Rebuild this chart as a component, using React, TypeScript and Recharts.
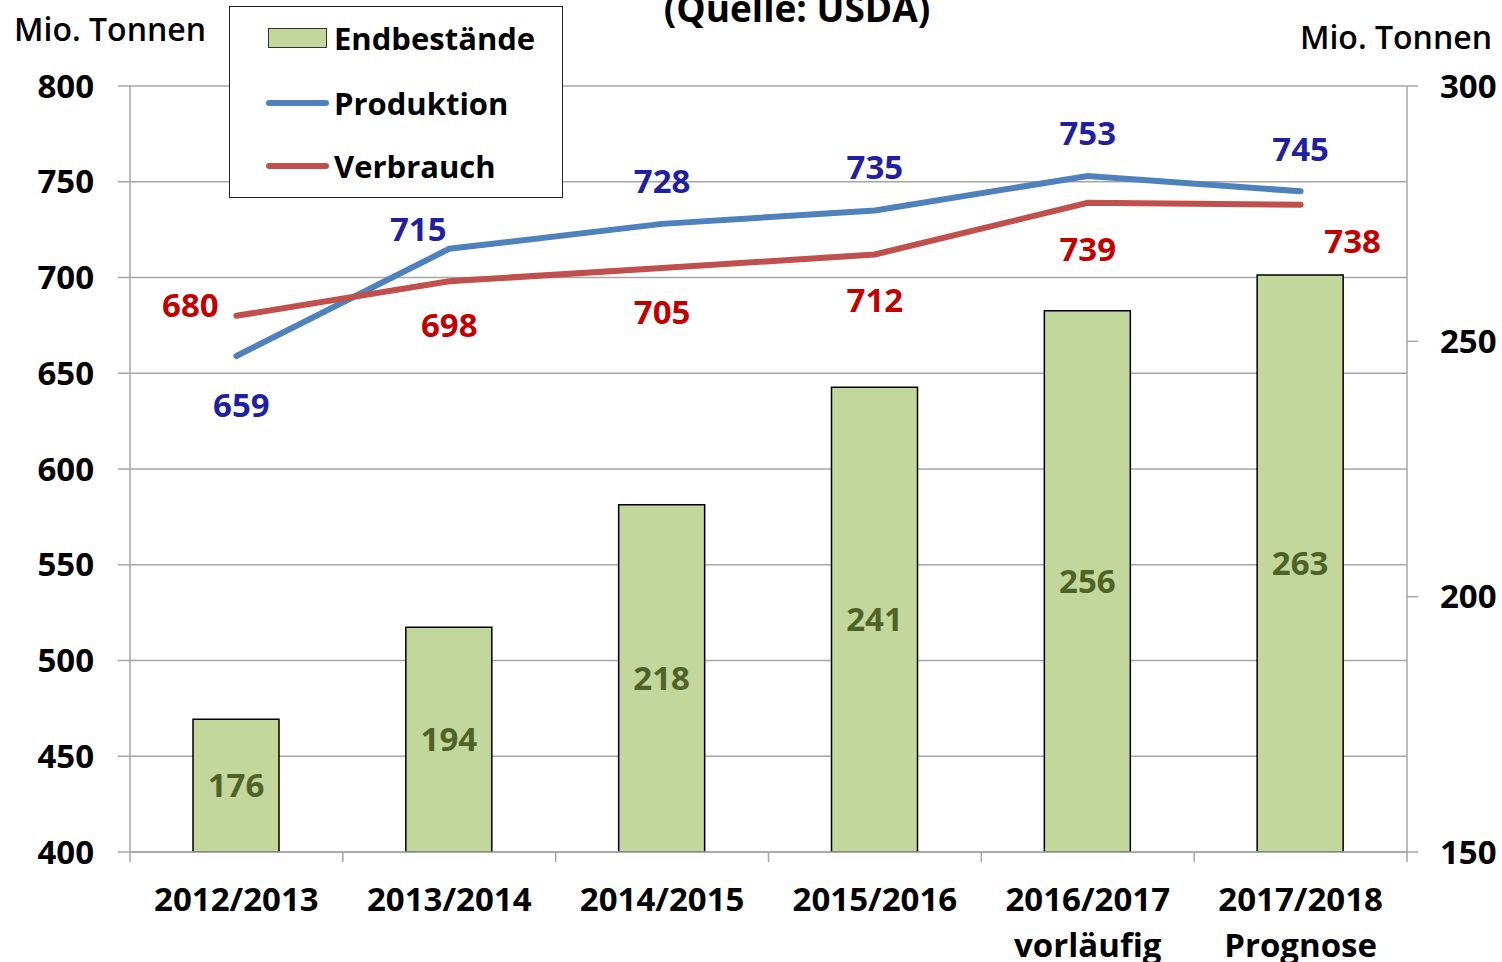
import React from 'react';
import { ComposedChart, Bar, Line, XAxis, YAxis, CartesianGrid, Legend, LabelList } from 'recharts';

const categories = ['2012/2013', '2013/2014', '2014/2015', '2015/2016', '2016/2017', '2017/2018'];
const categorySub = ['', '', '', '', 'vorläufig', 'Prognose'];
const endbestaende = [176, 194, 218, 241, 256, 263];
const produktion = [659, 715, 728, 735, 753, 745];
const verbrauch = [680, 698, 705, 712, 739, 738];
const leftTicks = [400, 450, 500, 550, 600, 650, 700, 750, 800];
const rightTicks = [150, 200, 250, 300];

const data = categories.map((c, i) => ({
  name: c,
  sub: categorySub[i],
  end: endbestaende[i],
  prod: produktion[i],
  verb: verbrauch[i],
}));

const FONT = '"Open Sans", "DejaVu Sans", sans-serif';
const GREY = '#A6A6A6';
const BLUE = '#4F81BD';
const RED = '#C0504D';
const GREEN = '#C3D69B';

const prodOffsets = [[5, 48], [-31, -20], [0, -43], [0, -44], [0, -44], [0, -43]];
const verbOffsets = [[-46, -11], [0, 43], [0, 44], [0, 45], [0, 46], [52, 36]];

const makeLineLabel = (offsets: number[][], color: string) => (props: any) => {
  const { x, y, value, index } = props;
  const [dx, dy] = offsets[index] || [0, -40];
  return (
    <text x={x + dx} y={y + dy} textAnchor="middle" dominantBaseline="central"
      fill={color} fontSize={33} fontWeight={700} fontFamily={FONT}>{value}</text>
  );
};

const XTick = (props: any) => {
  const { x, y, payload, index, width } = props;
  const half = payload && typeof payload.offset === 'number' && payload.offset > 0
    ? payload.offset : width / (2 * categories.length);
  const sub = categorySub[index] || '';
  return (
    <g>
      <line x1={x - half} x2={x - half} y1={y} y2={y + 10} stroke={GREY} strokeWidth={1.5} />
      {index === categories.length - 1 && (
        <line x1={x + half} x2={x + half} y1={y} y2={y + 10} stroke={GREY} strokeWidth={1.5} />
      )}
      <text x={x} y={y + 46} textAnchor="middle" dominantBaseline="central" fill="#000"
        fontSize={33} fontWeight={700} fontFamily={FONT}>{payload.value}</text>
      {sub && (
        <text x={x} y={y + 92} textAnchor="middle" dominantBaseline="central" fill="#000"
          fontSize={33} fontWeight={700} fontFamily={FONT}>{sub}</text>
      )}
    </g>
  );
};

const LegendBox = () => {
  const items = [
    { name: 'Endbestände', type: 'rect', color: GREEN, top: 31 },
    { name: 'Produktion', type: 'line', color: BLUE, top: 96 },
    { name: 'Verbrauch', type: 'line', color: RED, top: 159 },
  ];
  return (
    <div style={{ position: 'relative', width: 334, height: 192, boxSizing: 'border-box', border: '1.5px solid #222', background: '#fff', fontFamily: FONT }}>
      {items.map((it) => (
        <div key={it.name}>
          {it.type === 'rect' ? (
            <div style={{ position: 'absolute', left: 38, top: it.top - 10, width: 59, height: 20, boxSizing: 'border-box', background: it.color, border: '1.5px solid #333' }} />
          ) : (
            <div style={{ position: 'absolute', left: 36, top: it.top - 3, width: 63, height: 6, borderRadius: 3, background: it.color }} />
          )}
          <div style={{ position: 'absolute', left: 104, top: it.top - 22, height: 44, lineHeight: '44px', fontSize: 31, fontWeight: 700, color: '#000', whiteSpace: 'nowrap' }}>{it.name}</div>
        </div>
      ))}
    </div>
  );
};

const tickStyle = { fill: '#000', fontSize: 33, fontWeight: 700, fontFamily: FONT };

export default function App() {
  return (
    <div style={{ position: 'absolute', left: 0, top: 0, width: 1502, height: 962, background: '#fff', overflow: 'hidden' }}>
      <div style={{ position: 'absolute', left: 0, width: 1502, top: -17, textAlign: 'center', paddingLeft: 92, boxSizing: 'border-box', fontFamily: FONT, fontSize: 37, fontWeight: 700, color: '#000', lineHeight: '50px' }}>(Quelle: USDA)</div>
      <div style={{ position: 'absolute', left: 14, top: 7, fontFamily: FONT, fontSize: 32, fontWeight: 600, color: '#000', lineHeight: '44px', whiteSpace: 'nowrap' }}>Mio. Tonnen</div>
      <div style={{ position: 'absolute', right: 10, top: 15, fontFamily: FONT, fontSize: 32, fontWeight: 600, color: '#000', lineHeight: '44px', whiteSpace: 'nowrap' }}>Mio. Tonnen</div>
      <ComposedChart width={1502} height={962} data={data} margin={{ top: 86, right: 0, bottom: 0, left: 0 }}>
        <CartesianGrid yAxisId="left" vertical={false} stroke={GREY} strokeWidth={1.5} />
        <XAxis dataKey="name" xAxisId={0} height={110} interval={0} tickSize={0} tickMargin={0}
          tickLine={false} axisLine={{ stroke: GREY, strokeWidth: 1.5 }} tick={<XTick />} />
        <YAxis yAxisId="left" orientation="left" domain={[400, 800]} ticks={leftTicks} width={130}
          tickSize={12} tickMargin={24} interval={0} allowDataOverflow
          axisLine={{ stroke: GREY, strokeWidth: 1.5 }} tickLine={{ stroke: GREY, strokeWidth: 1.5 }} tick={tickStyle} />
        <YAxis yAxisId="right" orientation="right" domain={[150, 300]} ticks={rightTicks} width={95}
          tickSize={11} tickMargin={22} interval={0} allowDataOverflow
          axisLine={{ stroke: GREY, strokeWidth: 1.5 }} tickLine={{ stroke: GREY, strokeWidth: 1.5 }} tick={tickStyle} />
        <Legend layout="vertical" align="center" verticalAlign="middle" content={<LegendBox />}
          wrapperStyle={{ position: 'absolute', left: 229, top: 6, width: 334, height: 192 }} />
        <Bar yAxisId="right" dataKey="end" name="Endbestände" barSize={86} fill={GREEN} stroke="#000" strokeWidth={1.5} isAnimationActive={false}>
          <LabelList dataKey="end" position="center" fill="#4F6228" fontSize={33} fontWeight={700} fontFamily={FONT} />
        </Bar>
        <Line yAxisId="left" dataKey="prod" name="Produktion" stroke={BLUE} strokeWidth={6} dot={false} strokeLinecap="round" isAnimationActive={false}>
          <LabelList dataKey="prod" content={makeLineLabel(prodOffsets, '#1F1FA0')} />
        </Line>
        <Line yAxisId="left" dataKey="verb" name="Verbrauch" stroke={RED} strokeWidth={6} dot={false} strokeLinecap="round" isAnimationActive={false}>
          <LabelList dataKey="verb" content={makeLineLabel(verbOffsets, '#C00000')} />
        </Line>
      </ComposedChart>
    </div>
  );
}
